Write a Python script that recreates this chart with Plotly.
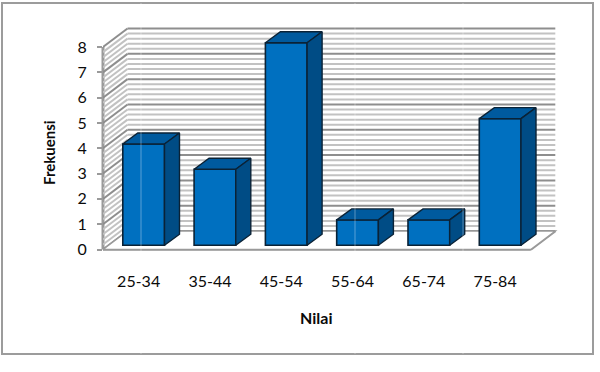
import plotly.graph_objects as go

# Score-band frequency data
categories = ["25-34", "35-44", "45-54", "55-64", "65-74", "75-84"]
frequencies = [4, 3, 8, 1, 1, 5]
y_ticks = [0, 1, 2, 3, 4, 5, 6, 7, 8]

# Pseudo-3D geometry, in axis units
UNIT_X = 71.3      # pixels per category
UNIT_Y = 25.31     # pixels per frequency unit
WALL_DX = 24.5 / UNIT_X
WALL_DY = 18.5 / UNIT_Y
BAR_WIDTH = 0.585
BAR_SHIFT = 0.07
BAR_BASE = 0.17
BAR_DX = 15 / UNIT_X
BAR_DY = 11 / UNIT_Y

FONT = "Lato, Carlito, Calibri, sans-serif"
FRONT = "#0070C0"
TOP = "#005A9E"
SIDE = "#004C85"
EDGE = "#0A2236"
GRID_MAJOR = "#8E8E8E"
GRID_MINOR = "#C2C2C2"
AXIS = "#9A9A9A"

# Plot-area placement on the 600x372 page
L, R, T, B = 103, 40, 20, 112
W, H = 600 - L - R, 372 - T - B
x_min = -0.5
x_max = x_min + W / UNIT_X
y_max = (249.5 - T) / UNIT_Y
y_min = y_max - H / UNIT_Y
x_front_end = len(categories) - 0.5


def px_x(p):
    return (p - L) / W


def px_y(p):
    return 1 - (p - T) / H


shapes = []


def line(x0, y0, x1, y1, color, width, xref="x", yref="y"):
    shapes.append(dict(type="line", layer="below", xref=xref, yref=yref,
                       x0=x0, y0=y0, x1=x1, y1=y1,
                       line=dict(color=color, width=width)))


# Walls: a line every fifth of a unit, darker on whole numbers
for k in range(0, 41):
    v = k / 5
    color = GRID_MAJOR if k % 5 == 0 else GRID_MINOR
    line(x_min + WALL_DX, v + WALL_DY, x_front_end + WALL_DX, v + WALL_DY, color, 2)
    line(x_min, v, x_min + WALL_DX, v + WALL_DY, color, 2)

# Floor outline and the left axis line
line(x_min, 0, x_front_end, 0, AXIS, 2.5)
line(x_front_end, 0, x_front_end + WALL_DX, WALL_DY, AXIS, 2.5)
line(0, 0, 0, 8, AXIS, 3, xref="paper")
shapes.append(dict(type="path", layer="below", xref="x", yref="y",
                   path=f"M {x_min} 0 L {x_min + WALL_DX} {WALL_DY} "
                        f"L {x_front_end + WALL_DX} {WALL_DY} L {x_front_end} 0 Z",
                   fillcolor="white", line=dict(color=AXIS, width=1.5)))

# Outer chart frame
shapes.append(dict(type="rect", layer="below", xref="paper", yref="paper",
                   x0=px_x(2), x1=px_x(593), y0=px_y(354), y1=px_y(3),
                   fillcolor="rgba(0,0,0,0)", line=dict(color="#9C9C9C", width=2)))

# Thin pale seams running down the page
for seam in (141, 355, 463):
    shapes.append(dict(type="line", layer="above", xref="paper", yref="paper",
                       x0=px_x(seam), x1=px_x(seam), y0=px_y(354), y1=px_y(3),
                       line=dict(color="rgba(255,255,255,0.35)", width=1)))

positions = list(range(len(categories)))
fig = go.Figure()

# Front faces of the columns
fig.add_trace(go.Bar(
    x=[p + BAR_SHIFT for p in positions], y=frequencies, base=BAR_BASE,
    width=BAR_WIDTH, marker=dict(color=FRONT, line=dict(color=EDGE, width=1.6)),
    showlegend=False, hoverinfo="skip"))

# Top and side faces
for p, value in zip(positions, frequencies):
    left = p + BAR_SHIFT - BAR_WIDTH / 2
    right = p + BAR_SHIFT + BAR_WIDTH / 2
    bottom = BAR_BASE
    top = BAR_BASE + value
    fig.add_trace(go.Scatter(
        x=[left, left + BAR_DX, right + BAR_DX, right, left],
        y=[top, top + BAR_DY, top + BAR_DY, top, top],
        mode="lines", fill="toself", fillcolor=TOP,
        line=dict(color=EDGE, width=1.4), showlegend=False, hoverinfo="skip"))
    fig.add_trace(go.Scatter(
        x=[right, right + BAR_DX, right + BAR_DX, right, right],
        y=[top, top + BAR_DY, bottom + BAR_DY, bottom, top],
        mode="lines", fill="toself", fillcolor=SIDE,
        line=dict(color=EDGE, width=1.4), showlegend=False, hoverinfo="skip"))

fig.update_layout(
    width=600, height=372,
    margin=dict(l=L, r=R, t=T, b=B, autoexpand=False),
    paper_bgcolor="white", plot_bgcolor="white",
    font=dict(family=FONT, size=16, color="#0A0A0A"),
    shapes=shapes,
    xaxis=dict(range=[x_min, x_max], tickmode="array", tickvals=positions,
               ticktext=categories, showgrid=False, zeroline=False, showline=False,
               ticks="", ticklabelstandoff=10,
               tickfont=dict(family=FONT, size=16, color="#0A0A0A")),
    yaxis=dict(range=[y_min, y_max], tickmode="array", tickvals=y_ticks,
               showgrid=False, zeroline=False, showline=False,
               ticks="outside", ticklen=5, tickwidth=2, tickcolor=AXIS,
               ticklabelstandoff=7,
               tickfont=dict(family=FONT, size=16, color="#0A0A0A")),
    annotations=[
        dict(text="<b>Nilai</b>", xref="paper", yref="paper", x=px_x(316), y=px_y(317),
             xanchor="center", yanchor="middle", showarrow=False,
             font=dict(family=FONT, size=16, color="#0A0A0A")),
        dict(text="<b>Frekuensi</b>", xref="paper", yref="paper", x=px_x(49), y=px_y(153),
             xanchor="center", yanchor="middle", showarrow=False, textangle=-90,
             font=dict(family=FONT, size=15, color="#0A0A0A")),
    ],
)

fig.write_html("out.html")
